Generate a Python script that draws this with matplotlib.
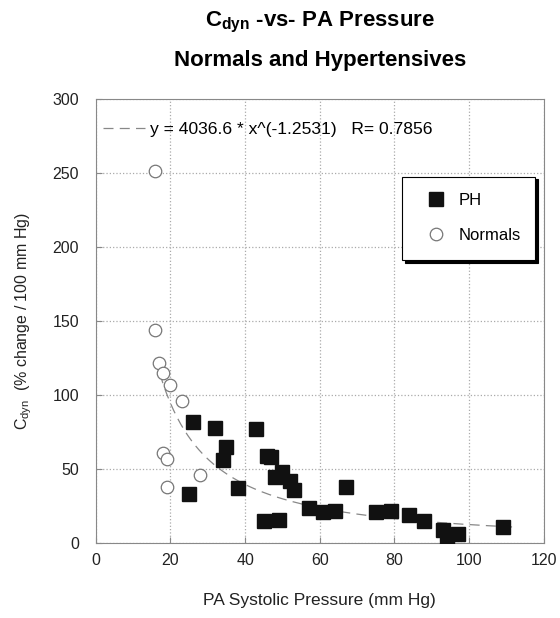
import numpy as np
import matplotlib.pyplot as plt
from matplotlib.lines import Line2D

plt.rcParams['font.family'] = ['Liberation Sans', 'DejaVu Sans']
plt.rcParams['mathtext.fontset'] = 'custom'
plt.rcParams['mathtext.rm'] = 'Liberation Sans'
plt.rcParams['mathtext.bf'] = 'Liberation Sans:bold'

# PH (pulmonary hypertension) group
ph_x = [25, 26, 32, 34, 35, 38, 43, 45, 46, 47, 48, 49, 50, 52, 53,
        57, 61, 64, 67, 75, 79, 84, 88, 93, 94, 97, 109]
ph_y = [33, 82, 78, 56, 65, 37, 77, 15, 59, 58, 45, 16, 48, 42, 36,
        24, 21, 22, 38, 21, 22, 19, 15, 9, 4, 6, 11]

# Normals
nl_x = [16, 16, 17, 18, 18, 19, 19, 20, 23, 28]
nl_y = [251, 144, 122, 115, 61, 57, 38, 107, 96, 46]

# power fit shown on chart
fit_a = 4036.6
fit_b = -1.2531
fit_r = 0.7856
fit_range = (16, 112)

x_ticks = [0, 20, 40, 60, 80, 100, 120]
y_ticks = [0, 50, 100, 150, 200, 250, 300]

fig = plt.figure(figsize=(5.6, 6.18), dpi=100)
ax = fig.add_axes([0.171, 0.121, 0.80, 0.719])

fx = np.linspace(fit_range[0], fit_range[1], 200)
fline, = ax.plot(fx, fit_a * fx ** fit_b, color='#888888', lw=0.9,
                 dashes=(8, 5), zorder=2)

ph, = ax.plot(ph_x, ph_y, 's', color='#111111', markersize=9.5,
              label='PH', zorder=3)
nl, = ax.plot(nl_x, nl_y, 'o', mfc='white', mec='#777777', mew=0.9,
              markersize=9, label='Normals', zorder=3)

ax.set_xlim(0, 120)
ax.set_ylim(0, 300)
ax.set_xticks(x_ticks)
ax.set_yticks(y_ticks)
ax.grid(True, color='#aaaaaa', ls=':', lw=0.9)
ax.tick_params(direction='in', length=4, color='#888888', labelsize=11.5,
               labelcolor='#222222')
ax.tick_params(axis='x', pad=7)
ax.tick_params(axis='y', pad=12)
for s in ax.spines.values():
    s.set_color('#888888')

ax.set_xlabel('PA Systolic Pressure (mm Hg)', fontsize=12.5, color='#222222',
              labelpad=18)
ax.set_ylabel(r'C$_{\mathrm{dyn}}$  (% change / 100 mm Hg)', fontsize=11.5,
              color='#222222', labelpad=13)
ax.set_title('C$_{\\mathbf{dyn}}$ -vs- PA Pressure\nNormals and Hypertensives',
             fontsize=16, fontweight='bold', pad=24, linespacing=1.9)

leg = ax.legend(handles=[ph, nl], loc='upper left',
                bbox_to_anchor=(0.684, 0.627, 0.296, 0.198), mode='expand',
                fontsize=12, frameon=True, fancybox=False,
                shadow={'color': 'black', 'alpha': 1}, labelspacing=1.2,
                borderpad=1.0, handletextpad=0.4, borderaxespad=0)
leg.get_frame().set_edgecolor('black')
leg.get_frame().set_linewidth(0.8)
ax.add_artist(leg)

eq = Line2D([], [], color='#888888', lw=0.9, dashes=(8, 5))
ax.legend(handles=[eq],
          labels=['y = %.1f * x^(%.4f)   R= %.4f' % (fit_a, fit_b, fit_r)],
          loc='upper left', bbox_to_anchor=(0.0, 0.965), frameon=False,
          fontsize=12.6, handlelength=2.4, handletextpad=0.3, borderaxespad=0)

fig.savefig('out.png', dpi=100)
